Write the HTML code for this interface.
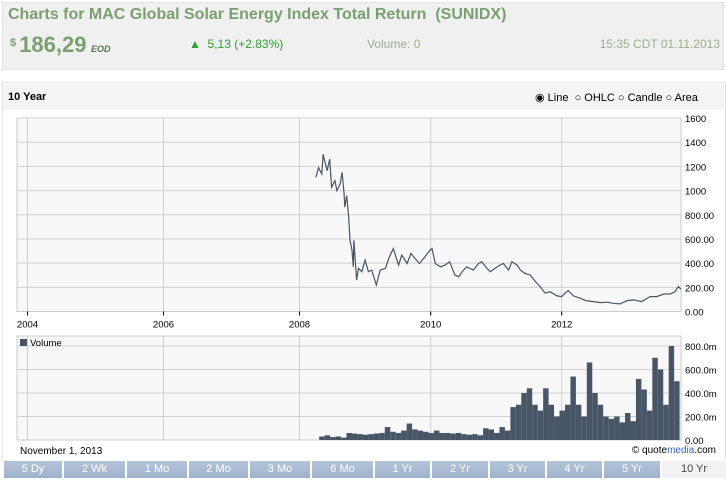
<!DOCTYPE html>
<html><head><meta charset="utf-8"><style>
body{margin:0;width:726px;height:483px;background:#fff;font-family:"Liberation Sans",sans-serif;overflow:hidden;position:relative}
.abs{position:absolute}
.btn{position:absolute;top:461px;height:17px;background:linear-gradient(#b4c4da,#9fb2cc);color:#fff;font-size:11px;text-align:center;line-height:17px}
</style></head><body>
<div class="abs" style="left:2px;top:2px;width:720px;height:66px;background:#f0f0f0;border:1px solid #e2e2e2"></div>
<div class="abs" style="left:8px;top:6px;font-size:16px;font-weight:bold;color:#79a06e">Charts for MAC Global Solar Energy Index Total Return &nbsp;(SUNIDX)</div>
<div class="abs" style="left:10px;top:32px;color:#79a06e;font-weight:bold;white-space:nowrap"><span style="font-size:11px;vertical-align:6px">$ </span><span style="font-size:22px">186,29</span> <span style="font-size:9px;font-style:italic;color:#55744c">EOD</span></div>
<div class="abs" style="left:189px;top:37px;font-size:12px;color:#2aa52a">▲&nbsp; 5,13 (+2.83%)</div>
<div class="abs" style="left:367px;top:37px;font-size:12px;color:#9aaf90">Volume: 0</div>
<div class="abs" style="right:6px;top:37px;font-size:12px;color:#9aaf90">15:35 CDT 01.11.2013</div>

<div class="abs" style="left:2px;top:82px;width:722px;height:378px;border:1px solid #e6e6e6;border-bottom:none"></div>
<div class="abs" style="left:3px;top:84px;width:721px;height:26px;background:#f4f4f4"></div>
<div class="abs" style="left:8px;top:91px;font-size:11px;font-weight:bold">10 Year</div>
<div class="abs" style="left:535px;top:91px;font-size:11px;white-space:nowrap">
<span>◉ Line</span>&nbsp; <span style="color:#000">○ OHLC</span> <span>○ Candle</span> <span>○ Area</span></div>

<svg class="abs" style="left:0;top:0" width="726" height="483" id="chart"></svg>

<div class="abs" style="left:20px;top:446px;font-size:10px">November 1, 2013</div>
<div class="abs" style="right:10px;top:445px;font-size:10px">© quote<span style="color:#3366cc">media</span>.com</div>

<div class="btn" style="left:4px;width:58px">5 Dy</div>
<div class="btn" style="left:64px;width:61px">2 Wk</div>
<div class="btn" style="left:127px;width:60px">1 Mo</div>
<div class="btn" style="left:189px;width:59px">2 Mo</div>
<div class="btn" style="left:250px;width:60px">3 Mo</div>
<div class="btn" style="left:312px;width:61px">6 Mo</div>
<div class="btn" style="left:375px;width:55px">1 Yr</div>
<div class="btn" style="left:432px;width:56px">2 Yr</div>
<div class="btn" style="left:490px;width:55px">3 Yr</div>
<div class="btn" style="left:547px;width:55px">4 Yr</div>
<div class="btn" style="left:604px;width:56px">5 Yr</div>
<div class="btn" style="left:662px;width:64px;background:#f2f2f2;color:#444">10 Yr</div>

<script>
const yearTicks=[2004,2006,2008,2010,2012];
const priceTicks=[0,200,400,600,800,1000,1200,1400,1600];
const priceTickLabels=["0.00","200.00","400.00","600.00","800.00","1000","1200","1400","1600"];
const volTicks=[0,200,400,600,800];
const volTickLabels=["0.00","200.0m","400.0m","600.0m","800.0m"];
const priceDates=[2008.25,2008.29,2008.34,2008.36,2008.42,2008.46,2008.49,2008.54,2008.57,2008.62,2008.65,2008.68,2008.69,2008.72,2008.75,2008.77,2008.80,2008.82,2008.83,2008.87,2008.90,2008.95,2009.00,2009.05,2009.10,2009.17,2009.23,2009.31,2009.36,2009.43,2009.51,2009.56,2009.64,2009.70,2009.76,2009.83,2009.89,2009.99,2010.02,2010.07,2010.15,2010.22,2010.29,2010.37,2010.43,2010.48,2010.55,2010.65,2010.73,2010.78,2010.86,2010.91,2010.98,2011.06,2011.11,2011.19,2011.24,2011.32,2011.37,2011.44,2011.52,2011.60,2011.67,2011.75,2011.82,2011.93,2012.00,2012.05,2012.10,2012.18,2012.28,2012.38,2012.49,2012.59,2012.69,2012.79,2012.89,2013.00,2013.10,2013.22,2013.35,2013.45,2013.56,2013.66,2013.73,2013.78,2013.82];
const priceValues=[1110,1190,1137,1300,1164,1260,1027,1082,1000,1055,1150,972,863,959,780,589,507,370,589,260,356,329,425,329,342,219,342,356,438,520,384,466,397,480,438,397,438,507,520,397,370,384,411,301,288,329,370,342,397,411,356,329,356,384,397,342,411,384,342,315,301,247,206,151,164,129,123,151,173,129,110,88,82,74,77,68,63,90,96,82,123,123,145,145,164,206,184];
const volStart=2008.30;
const volValues=[30,40,25,30,20,60,55,50,45,50,55,60,110,70,60,80,140,90,80,70,60,80,60,60,55,60,50,45,50,40,100,90,60,110,80,280,300,400,440,300,250,440,300,200,250,300,540,300,200,660,400,300,200,180,200,150,230,160,520,430,250,700,600,300,800,500];

const svg=document.getElementById('chart');
const NS='http://www.w3.org/2000/svg';
function mk(t,a){const e=document.createElementNS(NS,t);for(const k in a)e.setAttribute(k,a[k]);svg.appendChild(e);return e;}
const ax=[2004,2006,2008,2010,2012],axp=[27.5,163.5,299.5,430.7,561.7];
function xOf(yr){for(let i=0;i<ax.length-1;i++){if(yr<=ax[i+1])return axp[i]+(yr-ax[i])/(ax[i+1]-ax[i])*(axp[i+1]-axp[i]);}return axp[4]+(yr-2012)*65.5;}
const L=17,R=681,PT=118,PB=311.5;
function yP(v){return PB-v/1600*(PB-PT);}
const VT=346,VB=440;
function yV(v){return VB-v/800*(VB-VT);}

let e=mk('rect',{x:L,y:PT,width:R-L,height:PB-PT,fill:'#f8f8f8',stroke:'#cccccc'});

e=mk('rect',{x:L,y:336,width:R-L,height:VB-336,fill:'#f8f8f8',stroke:'#cccccc'});


priceTicks.forEach((v,i)=>{const y=yP(v);
 if(i>0&&i<priceTicks.length-1){const g=mk('line',{x1:L,x2:R,y1:y,y2:y,stroke:'#d0d0d0'});}
 const t=mk('text',{x:685,y:y+4,'font-size':'9.5',fill:'#000'});t.textContent=priceTickLabels[i];
 });
volTicks.forEach((v,i)=>{const y=yV(v);
 if(i>0){const g=mk('line',{x1:L,x2:R,y1:y,y2:y,stroke:'#d0d0d0'});}
 const t=mk('text',{x:685,y:y+4,'font-size':'9.5',fill:'#000'});t.textContent=volTickLabels[i];
 });
yearTicks.forEach(yr=>{const x=xOf(yr);
 let g=mk('line',{x1:x,x2:x,y1:PT,y2:PB+4,stroke:'#d0d0d0'});
 g=mk('line',{x1:x,x2:x,y1:PB,y2:PB+4,stroke:'#000'});
 g=mk('line',{x1:x,x2:x,y1:336,y2:VB,stroke:'#d0d0d0'});
 const t=mk('text',{x:x,y:PB+16,'font-size':'9.5','text-anchor':'middle'});t.textContent=yr;
 });

const lg=mk('rect',{x:20,y:339,width:7,height:7,fill:'#475566'});

const lt=mk('text',{x:30,y:346,'font-size':'9.5'});lt.textContent='Volume';


const pts=priceDates.map((d,i)=>xOf(d).toFixed(1)+','+yP(priceValues[i]).toFixed(1)).join(' ');
const pl=mk('polyline',{points:pts,fill:'none',stroke:'#475566','stroke-width':1.2});


volValues.forEach((v,i)=>{const x0=xOf(volStart+i/12),x1=xOf(volStart+(i+1)/12);
 const b=mk('rect',{x:x0,y:yV(v),width:Math.max(1,x1-x0),height:VB-yV(v),fill:'#475566'});
 });
</script>
</body></html>
